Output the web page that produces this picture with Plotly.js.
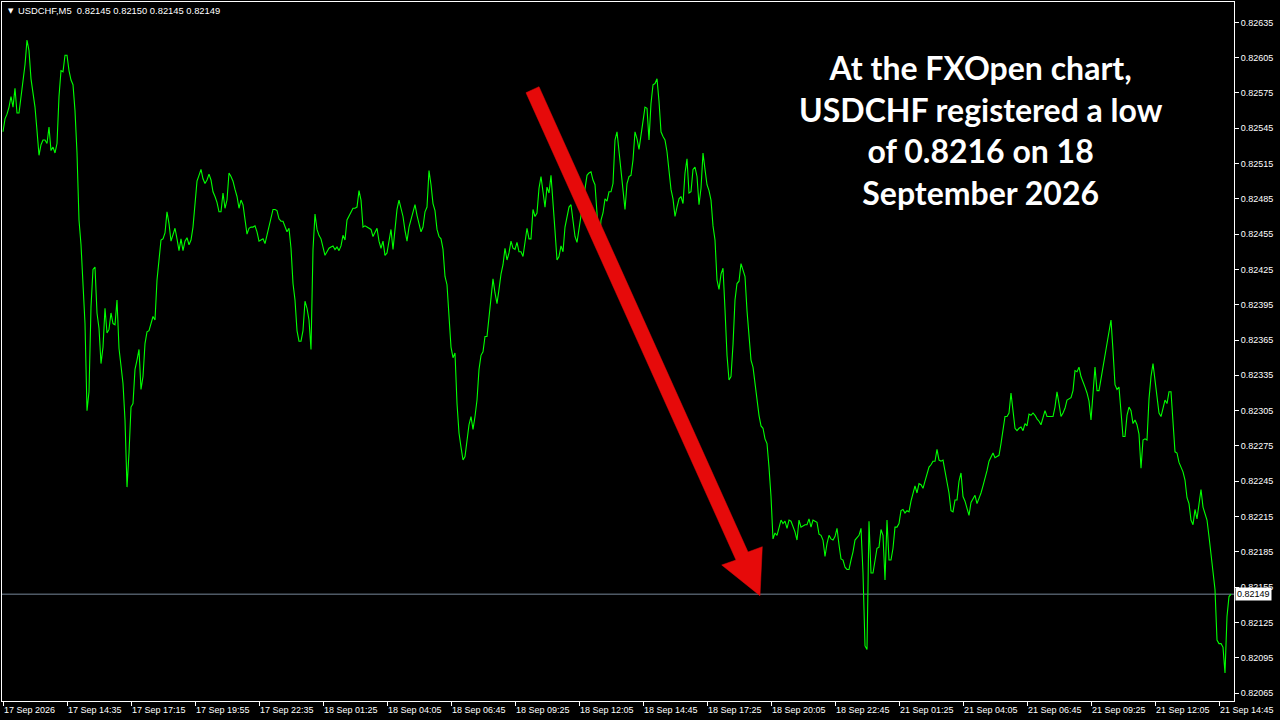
<!DOCTYPE html>
<html>
<head>
<meta charset="utf-8">
<script src="https://cdn.plot.ly/plotly-3.0.1.min.js"></script>
<style>html,body{margin:0;padding:0;background:#000;}#chart{width:1280px;height:720px;}</style>
</head>
<body>
<div id="chart"></div>
<script>
// USDCHF M5 close prices, one value per bar
const closes = [
0.82542,0.82553,0.82557,0.82563,0.82572,0.82563,0.82579,0.82558,0.82558,0.82573,
0.82583,0.82599,0.82620,0.82611,0.82587,0.82576,0.82563,0.82543,0.82522,0.82531,
0.82535,0.82535,0.82532,0.82546,0.82526,0.82529,0.82524,0.82532,0.82572,0.82594,
0.82593,0.82607,0.82607,0.82594,0.82586,0.82582,0.82560,0.82524,0.82467,0.82446,
0.82413,0.82379,0.82305,0.82321,0.82393,0.82425,0.82427,0.82388,0.82375,0.82345,
0.82359,0.82392,0.82371,0.82374,0.82388,0.82379,0.82378,0.82399,0.82358,0.82345,
0.82328,0.82297,0.82240,0.82269,0.82308,0.82311,0.82340,0.82348,0.82357,0.82323,
0.82334,0.82362,0.82372,0.82373,0.82379,0.82385,0.82382,0.82416,0.82433,0.82450,
0.82451,0.82456,0.82474,0.82464,0.82449,0.82454,0.82460,0.82451,0.82441,0.82451,
0.82441,0.82449,0.82452,0.82446,0.82450,0.82461,0.82485,0.82500,0.82505,0.82510,
0.82502,0.82498,0.82501,0.82506,0.82501,0.82491,0.82487,0.82482,0.82474,0.82474,
0.82490,0.82477,0.82484,0.82507,0.82504,0.82500,0.82493,0.82487,0.82477,0.82484,
0.82480,0.82467,0.82455,0.82460,0.82461,0.82461,0.82462,0.82457,0.82449,0.82450,
0.82451,0.82447,0.82454,0.82462,0.82468,0.82476,0.82476,0.82475,0.82468,0.82466,
0.82466,0.82462,0.82457,0.82460,0.82443,0.82413,0.82399,0.82373,0.82364,0.82364,
0.82373,0.82398,0.82392,0.82382,0.82357,0.82442,0.82472,0.82459,0.82454,0.82451,
0.82443,0.82437,0.82440,0.82443,0.82444,0.82445,0.82442,0.82444,0.82441,0.82445,
0.82454,0.82450,0.82467,0.82470,0.82474,0.82477,0.82477,0.82478,0.82492,0.82484,
0.82461,0.82462,0.82461,0.82460,0.82459,0.82453,0.82457,0.82460,0.82449,0.82443,
0.82449,0.82437,0.82439,0.82449,0.82459,0.82442,0.82457,0.82476,0.82484,0.82477,
0.82470,0.82458,0.82449,0.82461,0.82468,0.82475,0.82480,0.82471,0.82464,0.82457,
0.82461,0.82474,0.82478,0.82509,0.82497,0.82481,0.82475,0.82459,0.82453,0.82451,
0.82442,0.82419,0.82412,0.82382,0.82359,0.82350,0.82354,0.82311,0.82286,0.82274,
0.82263,0.82266,0.82280,0.82293,0.82300,0.82289,0.82300,0.82314,0.82340,0.82352,
0.82355,0.82368,0.82368,0.82385,0.82405,0.82417,0.82405,0.82396,0.82408,0.82421,
0.82429,0.82443,0.82433,0.82439,0.82449,0.82443,0.82442,0.82448,0.82440,0.82440,
0.82436,0.82450,0.82460,0.82451,0.82451,0.82476,0.82470,0.82473,0.82494,0.82504,
0.82490,0.82478,0.82495,0.82490,0.82505,0.82484,0.82458,0.82433,0.82436,0.82445,
0.82440,0.82461,0.82470,0.82478,0.82480,0.82464,0.82453,0.82448,0.82459,0.82470,
0.82484,0.82495,0.82505,0.82507,0.82508,0.82501,0.82497,0.82473,0.82442,0.82467,
0.82473,0.82485,0.82483,0.82491,0.82491,0.82498,0.82535,0.82542,0.82526,0.82512,
0.82490,0.82476,0.82498,0.82504,0.82505,0.82518,0.82542,0.82536,0.82527,0.82539,
0.82552,0.82563,0.82562,0.82535,0.82566,0.82582,0.82583,0.82587,0.82568,0.82542,
0.82538,0.82535,0.82525,0.82510,0.82493,0.82485,0.82470,0.82478,0.82485,0.82487,
0.82481,0.82507,0.82519,0.82490,0.82491,0.82510,0.82512,0.82504,0.82480,0.82494,
0.82524,0.82510,0.82497,0.82492,0.82484,0.82462,0.82450,0.82416,0.82408,0.82421,
0.82426,0.82391,0.82352,0.82331,0.82334,0.82361,0.82399,0.82413,0.82415,0.82430,
0.82425,0.82419,0.82390,0.82368,0.82348,0.82342,0.82327,0.82313,0.82301,0.82292,
0.82290,0.82281,0.82277,0.82257,0.82232,0.82196,0.82201,0.82199,0.82205,0.82212,
0.82209,0.82211,0.82205,0.82212,0.82211,0.82206,0.82202,0.82195,0.82212,0.82206,
0.82207,0.82208,0.82208,0.82213,0.82206,0.82212,0.82211,0.82210,0.82200,0.82199,
0.82195,0.82181,0.82192,0.82199,0.82196,0.82195,0.82198,0.82205,0.82191,0.82179,
0.82178,0.82172,0.82170,0.82170,0.82178,0.82185,0.82195,0.82197,0.82199,0.82205,
0.82167,0.82105,0.82102,0.82211,0.82167,0.82167,0.82177,0.82188,0.82189,0.82204,
0.82199,0.82161,0.82212,0.82178,0.82178,0.82188,0.82206,0.82206,0.82209,0.82220,
0.82221,0.82218,0.82220,0.82219,0.82228,0.82235,0.82241,0.82235,0.82243,0.82242,
0.82239,0.82245,0.82251,0.82257,0.82259,0.82262,0.82262,0.82272,0.82263,0.82262,
0.82263,0.82253,0.82245,0.82235,0.82220,0.82219,0.82229,0.82229,0.82245,0.82252,
0.82232,0.82228,0.82222,0.82216,0.82227,0.82230,0.82233,0.82226,0.82230,0.82235,
0.82241,0.82247,0.82254,0.82262,0.82265,0.82269,0.82265,0.82266,0.82267,0.82277,
0.82291,0.82300,0.82300,0.82303,0.82320,0.82305,0.82290,0.82288,0.82290,0.82291,
0.82288,0.82294,0.82292,0.82302,0.82301,0.82303,0.82301,0.82298,0.82296,0.82293,
0.82300,0.82305,0.82300,0.82300,0.82300,0.82300,0.82308,0.82321,0.82311,0.82300,
0.82303,0.82307,0.82314,0.82315,0.82316,0.82322,0.82339,0.82338,0.82342,0.82334,
0.82330,0.82325,0.82320,0.82313,0.82297,0.82322,0.82342,0.82322,0.82322,0.82332,
0.82342,0.82351,0.82364,0.82374,0.82382,0.82356,0.82327,0.82323,0.82325,0.82304,
0.82283,0.82283,0.82301,0.82308,0.82305,0.82294,0.82297,0.82293,0.82285,0.82256,
0.82280,0.82281,0.82280,0.82315,0.82334,0.82345,0.82330,0.82314,0.82303,0.82300,
0.82308,0.82314,0.82311,0.82321,0.82321,0.82294,0.82270,0.82269,0.82261,0.82257,
0.82253,0.82246,0.82231,0.82226,0.82212,0.82208,0.82221,0.82213,0.82225,0.82238,
0.82223,0.82218,0.82212,0.82198,0.82181,0.82167,0.82153,0.82110,0.82107,0.82107,
0.82104,0.82082,0.82130,0.82147,0.82149
];

// time-axis labels (every 32 bars)
const timeTickBars = [0,32,64,96,128,160,192,224,256,288,320,352,384,416,448,480,512,544,576,608];
const timeTickLabels = ["17 Sep 2026","17 Sep 14:35","17 Sep 17:15","17 Sep 19:55","17 Sep 22:35",
  "18 Sep 01:25","18 Sep 04:05","18 Sep 06:45","18 Sep 09:25","18 Sep 12:05",
  "18 Sep 14:45","18 Sep 17:25","18 Sep 20:05","18 Sep 22:45","21 Sep 01:25",
  "21 Sep 04:05","21 Sep 06:45","21 Sep 09:25","21 Sep 12:05","21 Sep 14:45"];

// price-axis ticks
const priceTicks = [0.82065,0.82095,0.82125,0.82155,0.82185,0.82215,0.82245,0.82275,0.82305,0.82335,
  0.82365,0.82395,0.82425,0.82455,0.82485,0.82515,0.82545,0.82575,0.82605,0.82635];

const symbolName = "USDCHF,M5";
const lastOHLC = [0.82145, 0.82150, 0.82145, 0.82149];
const currentPrice = 0.82149;
const noteLines = ["At the FXOpen chart,", "USDCHF registered a low", "of 0.8216 on 18", "September 2026"];

const barIndex = closes.map((_, i) => i);

// arrow outline in pixel coordinates of the page, converted to paper coords
const plotL = 2, plotR = 1234, plotT = 2, plotB = 701;
function px(x){ return (x - plotL) / (plotR - plotL); }
function py(y){ return (plotB - y) / (plotB - plotT); }
const arrowPts = [[526,92.7],[539,86.7],[748,552],[762.3,546.7],[760,595.7],[721.7,565],[736,560]];
const arrowPath = arrowPts.map((p, k) => (k ? 'L' : 'M') + px(p[0]).toFixed(5) + ',' + py(p[1]).toFixed(5)).join(' ') + ' Z';

const font = "Liberation Sans, Arial, sans-serif";

const trace = {
  type: 'scatter', mode: 'lines',
  x: barIndex, y: closes,
  line: {color: '#00FF00', width: 1.1},
  hoverinfo: 'skip'
};

const layout = {
  width: 1280, height: 720,
  margin: {l: plotL, r: 1280 - plotR, t: plotT, b: 720 - plotB, pad: 0},
  paper_bgcolor: '#000000', plot_bgcolor: '#000000',
  showlegend: false,
  xaxis: {
    range: [-0.5, 615.5], showgrid: false, zeroline: false,
    showline: true, linecolor: '#ffffff', linewidth: 1, mirror: true,
    ticks: 'outside', ticklen: 4, tickcolor: '#ffffff', tickwidth: 1,
    tickmode: 'array', tickvals: timeTickBars, ticktext: timeTickLabels,
    ticklabelposition: 'outside right',
    tickfont: {family: font, size: 9, color: '#ffffff'},
    fixedrange: true
  },
  yaxis: {
    side: 'right',
    range: [0.820582, 0.826523], showgrid: false, zeroline: false,
    showline: true, linecolor: '#ffffff', linewidth: 1, mirror: true,
    ticks: 'outside', ticklen: 4, tickcolor: '#ffffff', tickwidth: 1,
    tickmode: 'array', tickvals: priceTicks, ticktext: priceTicks.map(v => v.toFixed(5)),
    tickfont: {family: font, size: 9, color: '#ffffff'},
    fixedrange: true
  },
  shapes: [
    {type: 'line', xref: 'paper', yref: 'y', x0: 0, x1: 1, y0: currentPrice, y1: currentPrice,
     line: {color: '#778899', width: 1}, layer: 'below'},
    {type: 'path', xref: 'paper', yref: 'paper', path: arrowPath,
     fillcolor: '#E60A0A', line: {color: '#E60A0A', width: 0.5}, layer: 'above'}
  ],
  annotations: [
    {xref: 'paper', yref: 'paper', x: 0, y: 1, xanchor: 'left', yanchor: 'middle',
     xshift: 4, yshift: -9, showarrow: false, text: '▼',
     font: {family: 'DejaVu Sans', size: 7, color: '#ffffff'}},
    {xref: 'paper', yref: 'paper', x: 0, y: 1, xanchor: 'left', yanchor: 'middle',
     xshift: 14, yshift: -8, showarrow: false,
     text: symbolName + '&nbsp;&nbsp;' + lastOHLC.map(v => v.toFixed(5)).join(' '),
     font: {family: font, size: 9.4, color: '#ffffff'}},
    {xref: 'paper', yref: 'y', x: 1, y: currentPrice, xanchor: 'left', yanchor: 'middle',
     xshift: 1, showarrow: false, text: currentPrice.toFixed(5),
     bgcolor: '#ffffff', borderpad: 1,
     font: {family: font, size: 9, color: '#000000'}},
    {xref: 'paper', yref: 'paper', x: px(981), y: py(130.5), xanchor: 'center', yanchor: 'middle',
     showarrow: false, align: 'center', text: noteLines.map(s => '<b>' + s + '</b>').join('<br>'),
     font: {family: 'Lato, sans-serif', size: 32, color: '#ffffff'}}
  ]
};

Plotly.newPlot('chart', [trace], layout, {staticPlot: true, displayModeBar: false});
</script>
</body>
</html>
